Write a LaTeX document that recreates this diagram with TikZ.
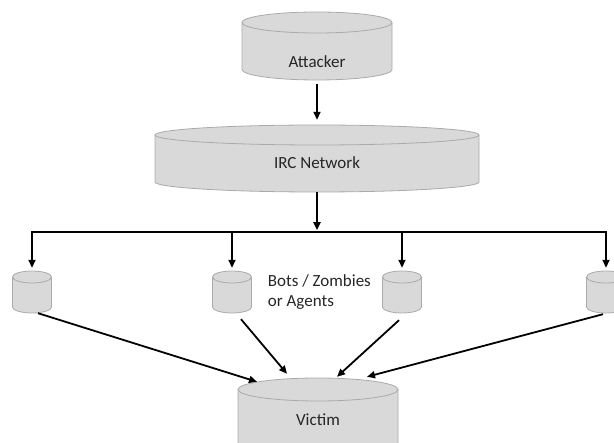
\documentclass[tikz,border=0pt]{standalone}
\usepackage{fontspec}
\setmainfont{Carlito}
\usetikzlibrary{arrows.meta}
\usetikzlibrary{positioning}
\definecolor{cylgray}{HTML}{D9D9D9}
\definecolor{rimgray}{HTML}{AAAAAA}
\definecolor{txtgray}{HTML}{262626}
\tikzset{
  cylfill/.style={fill=cylgray},
  cylrim/.style={draw=rimgray, line width=0.8pt},
  lbl/.style={font=\fontsize{17}{20.5}\selectfont, text=txtgray, inner sep=0pt},
  conn/.style={black, line width=1.8pt, -{Triangle[length=8pt,width=7pt]}},
  link/.style={black, line width=1.8pt, line cap=rect}
}
\newcommand{\drawcyl}[6]{%
  \fill[cylfill] (#2-#5,#3+#6) -- (#2-#5,#4-#6) arc[start angle=180, end angle=360, x radius=#5pt, y radius=#6pt] -- (#2+#5,#3+#6) -- cycle;
  \draw[cylrim] (#2-#5,#3+#6) -- (#2-#5,#4-#6) arc[start angle=180, end angle=360, x radius=#5pt, y radius=#6pt] -- (#2+#5,#3+#6);
  \draw[cylfill, cylrim] (#2,#3+#6) ellipse [x radius=#5pt, y radius=#6pt];
  \node[inner sep=0pt, minimum width=2*#5pt, minimum height={(#4-#3)*1pt}] (#1) at (#2,{(#3+#4)/2}) {};
}
\begin{document}
\begin{tikzpicture}[x=1pt, y=-1pt]
        \useasboundingbox (0,0) rectangle (614,443);
        \drawcyl{attacker}{317}{12}{80}{75}{10.5}
        \drawcyl{irc}{317}{125}{192}{162}{10}
        \drawcyl{victim}{318}{378}{456}{80}{11.5}
        \foreach \n/\x in {1/32, 2/232, 3/402, 4/606} {
                \drawcyl{bot\n}{\x}{271}{313}{19.5}{6}
            }
        \node[lbl] (attackertext) at ([yshift=-16pt]attacker.center) {Attacker};
        \node[lbl] (irctext) at ([yshift=-4.5pt]irc.center) {IRC Network};
        \node[lbl] (victimtext) at ([yshift=-3pt]victim.center) {Victim};
        \node[lbl, align=left, right=16pt of bot2] (botstext) {Bots / Zombies\\or Agents};
        \coordinate (bus) at ([yshift=-40pt]irc.south);
        \draw[conn, shorten <=4pt, shorten >=5pt] (attacker.south) -- (irc.north);
        \draw[conn, shorten >=2pt] (irc.south) -- (bus);
        \draw[link] (bot1.north |- bus) -- (bot4.north |- bus);
        \foreach \n in {1,...,4} {
                \draw[conn, shorten >=3pt] (bot\n.north |- bus) -- (bot\n.north);
            }
        \draw[conn] ([xshift=6pt]bot1.south) -- ([shift={(-61,4)}]victim.north);
        \draw[conn] ([shift={(9,6)}]bot2.south) -- ([shift={(-31,-4)}]victim.north);
        \draw[conn] ([shift={(-3,7)}]bot3.south) -- ([shift={(19,-1)}]victim.north);
        \draw[conn] ([shift={(-3,1)}]bot4.south) -- ([shift={(49,-1)}]victim.north);
    \end{tikzpicture}
\end{document}
